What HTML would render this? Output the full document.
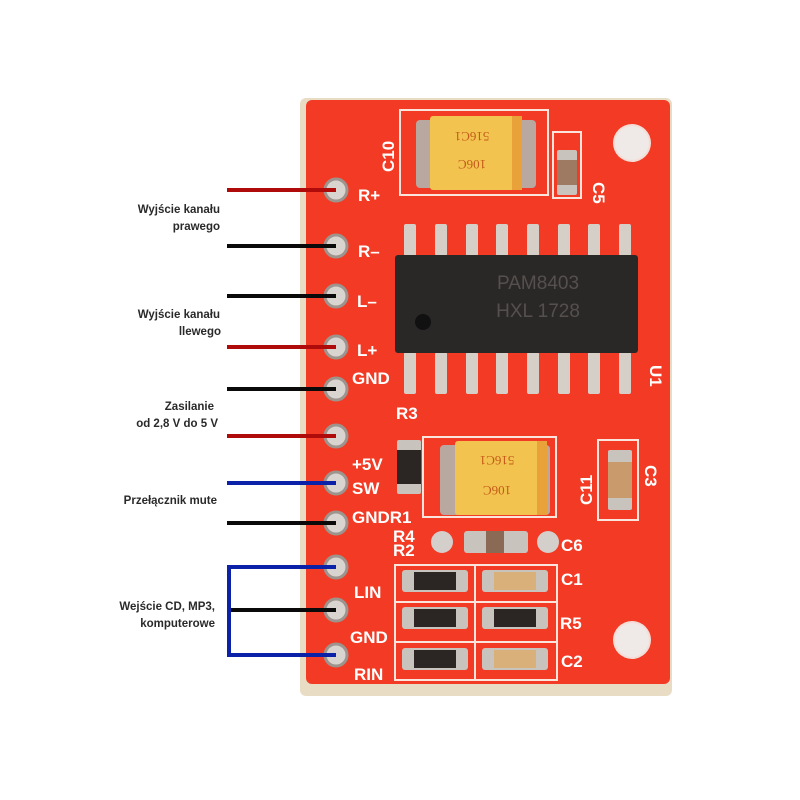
<!DOCTYPE html>
<html><head><meta charset="utf-8"><style>
html,body{margin:0;padding:0;background:#fff}
svg{display:block}
.l{font-family:"Liberation Sans",sans-serif;font-size:11.5px;font-weight:bold;fill:#2a2a2a}
.s{font-family:"Liberation Sans",sans-serif;font-size:17px;font-weight:bold;fill:#fff}
</style></head><body>
<svg width="800" height="800" viewBox="0 0 800 800" xmlns="http://www.w3.org/2000/svg">
<rect width="800" height="800" fill="#fff"/>
<!-- board -->
<rect x="300" y="98" width="372" height="598" rx="6" fill="#e9dcc4"/>
<rect x="306" y="100" width="364" height="584" rx="6" fill="#f23a24"/>
<!-- mounting holes -->
<circle cx="632" cy="143" r="19" fill="#f4ddd6"/><circle cx="632" cy="143" r="17" fill="#efe9e7"/>
<circle cx="632" cy="640" r="19" fill="#f4ddd6"/><circle cx="632" cy="640" r="17" fill="#efe9e7"/>
<!-- silkscreen boxes -->
<g fill="none" stroke="#fbe4dc" stroke-width="2">
<rect x="400" y="110" width="148" height="85"/>
<rect x="553" y="132" width="28" height="66"/>
<rect x="423" y="437" width="133" height="80"/>
<rect x="598" y="440" width="40" height="80"/>
<rect x="395" y="565" width="162" height="115"/>
<line x1="475" y1="565" x2="475" y2="680"/>
<line x1="395" y1="602" x2="557" y2="602"/>
<line x1="395" y1="642" x2="557" y2="642"/>
</g>
<!-- tantalum caps -->
<rect x="416" y="120" width="120" height="68" rx="4" fill="#b9a89f"/>
<rect x="430" y="116" width="92" height="74" rx="3" fill="#f2c34e"/>
<rect x="512" y="116" width="10" height="74" fill="#e9a23a"/>
<text x="472" y="140" font-family="Liberation Serif,serif" font-size="13" fill="#c45a1a" text-anchor="middle" transform="rotate(180 472 136)">516C1</text>
<text x="472" y="168" font-family="Liberation Serif,serif" font-size="13" fill="#c45a1a" text-anchor="middle" transform="rotate(180 472 164)">106C</text>
<rect x="440" y="445" width="110" height="70" rx="4" fill="#b9a89f"/>
<rect x="455" y="441" width="92" height="74" rx="3" fill="#f2c34e"/>
<rect x="537" y="441" width="10" height="74" fill="#e9a23a"/>
<text x="497" y="464" font-family="Liberation Serif,serif" font-size="13" fill="#c45a1a" text-anchor="middle" transform="rotate(180 497 460)">516C1</text>
<text x="497" y="494" font-family="Liberation Serif,serif" font-size="13" fill="#c45a1a" text-anchor="middle" transform="rotate(180 497 490)">106C</text>
<!-- small caps -->
<rect x="557" y="150" width="20" height="45" rx="2" fill="#c9c3be"/><rect x="557" y="160" width="20" height="25" fill="#9e7a62"/>
<rect x="608" y="450" width="24" height="60" rx="2" fill="#c9c3be"/><rect x="608" y="462" width="24" height="36" fill="#c99b6c"/>
<rect x="397" y="440" width="24" height="54" rx="2" fill="#c9c3be"/><rect x="397" y="450" width="24" height="34" fill="#2b2624"/>
<!-- C6 -->
<circle cx="442" cy="542" r="11" fill="#d5cfcc"/><circle cx="548" cy="542" r="11" fill="#d5cfcc"/>
<rect x="464" y="531" width="64" height="22" rx="3" fill="#c9c3be"/><rect x="486" y="531" width="18" height="22" fill="#8a6a55"/>
<!-- resistor grid -->
<g>
<rect x="402" y="570" width="66" height="22" rx="3" fill="#c9c3be"/><rect x="414" y="572" width="42" height="18" fill="#2b2624"/>
<rect x="482" y="570" width="66" height="22" rx="3" fill="#c9c3be"/><rect x="494" y="572" width="42" height="18" fill="#d9b07a"/>
<rect x="402" y="607" width="66" height="22" rx="3" fill="#c9c3be"/><rect x="414" y="609" width="42" height="18" fill="#2b2624"/>
<rect x="482" y="607" width="66" height="22" rx="3" fill="#c9c3be"/><rect x="494" y="609" width="42" height="18" fill="#2b2624"/>
<rect x="402" y="648" width="66" height="22" rx="3" fill="#c9c3be"/><rect x="414" y="650" width="42" height="18" fill="#2b2624"/>
<rect x="482" y="648" width="66" height="22" rx="3" fill="#c9c3be"/><rect x="494" y="650" width="42" height="18" fill="#d9b07a"/>
</g>
<!-- IC pins -->
<g fill="#d6cfc8">
<rect x="404" y="224" width="12" height="32" rx="2"/><rect x="435" y="224" width="12" height="32" rx="2"/><rect x="466" y="224" width="12" height="32" rx="2"/><rect x="496" y="224" width="12" height="32" rx="2"/><rect x="527" y="224" width="12" height="32" rx="2"/><rect x="558" y="224" width="12" height="32" rx="2"/><rect x="588" y="224" width="12" height="32" rx="2"/><rect x="619" y="224" width="12" height="32" rx="2"/>
<rect x="404" y="352" width="12" height="42" rx="2"/><rect x="435" y="352" width="12" height="42" rx="2"/><rect x="466" y="352" width="12" height="42" rx="2"/><rect x="496" y="352" width="12" height="42" rx="2"/><rect x="527" y="352" width="12" height="42" rx="2"/><rect x="558" y="352" width="12" height="42" rx="2"/><rect x="588" y="352" width="12" height="42" rx="2"/><rect x="619" y="352" width="12" height="42" rx="2"/>
</g>
<rect x="395" y="255" width="243" height="98" rx="3" fill="#2a2727"/>
<circle cx="423" cy="322" r="8" fill="#111"/>
<text x="538" y="289" font-family="Liberation Sans,sans-serif" font-size="19" fill="#55504d" text-anchor="middle">PAM8403</text>
<text x="538" y="317" font-family="Liberation Sans,sans-serif" font-size="19" fill="#55504d" text-anchor="middle">HXL   1728</text>
<!-- pins header -->
<g fill="#d9d4d0" stroke="#9d948e" stroke-width="3">
<circle cx="336" cy="190" r="11"/><circle cx="336" cy="246" r="11"/><circle cx="336" cy="296" r="11"/><circle cx="336" cy="347" r="11"/><circle cx="336" cy="389" r="11"/><circle cx="336" cy="436" r="11"/><circle cx="336" cy="483" r="11"/><circle cx="336" cy="523" r="11"/><circle cx="336" cy="567" r="11"/><circle cx="336" cy="610" r="11"/><circle cx="336" cy="655" r="11"/>
</g>
<!-- silk labels -->
<text class="s" x="358" y="201">R+</text>
<text class="s" x="358" y="257">R–</text>
<text class="s" x="357" y="307">L–</text>
<text class="s" x="357" y="356">L+</text>
<text class="s" x="352" y="384">GND</text>
<text class="s" x="396" y="419">R3</text>
<text class="s" x="352" y="470">+5V</text>
<text class="s" x="352" y="494">SW</text>
<text class="s" x="352" y="523">GNDR1</text>
<text class="s" x="393" y="542" font-size="14">R4</text>
<text class="s" x="393" y="556" font-size="14">R2</text>
<text class="s" x="354" y="598">LIN</text>
<text class="s" x="350" y="643">GND</text>
<text class="s" x="354" y="680">RIN</text>
<text class="s" x="0" y="0" transform="translate(394 172) rotate(-90)">C10</text>
<text class="s" x="0" y="0" transform="translate(593 182) rotate(90)">C5</text>
<text class="s" x="0" y="0" transform="translate(650 365) rotate(90)">U1</text>
<text class="s" x="0" y="0" transform="translate(592 505) rotate(-90)">C11</text>
<text class="s" x="0" y="0" transform="translate(645 465) rotate(90)">C3</text>
<text class="s" x="561" y="551">C6</text>
<text class="s" x="561" y="585">C1</text>
<text class="s" x="560" y="629">R5</text>
<text class="s" x="561" y="667">C2</text>
<!-- wires -->
<g stroke-width="4" fill="none">
<line x1="227" y1="190" x2="336" y2="190" stroke="#b00b0b"/>
<line x1="227" y1="246" x2="336" y2="246" stroke="#0a0a0a"/>
<line x1="227" y1="296" x2="336" y2="296" stroke="#0a0a0a"/>
<line x1="227" y1="347" x2="336" y2="347" stroke="#b00b0b"/>
<line x1="227" y1="389" x2="336" y2="389" stroke="#0a0a0a"/>
<line x1="227" y1="436" x2="336" y2="436" stroke="#b00b0b"/>
<line x1="227" y1="483" x2="336" y2="483" stroke="#0b22a8"/>
<line x1="227" y1="523" x2="336" y2="523" stroke="#0a0a0a"/>
<polyline points="336,567 229,567 229,655 336,655" stroke="#0b22a8"/>
<line x1="231" y1="610" x2="336" y2="610" stroke="#0a0a0a"/>
</g>
<!-- labels -->
<g class="l" text-anchor="end">
<text x="220" y="213">Wyjście kanału</text>
<text x="220" y="230">prawego</text>
<text x="220" y="318">Wyjście kanału</text>
<text x="221" y="335">llewego</text>
<text x="214" y="410">Zasilanie</text>
<text x="218" y="427">od 2,8 V do 5 V</text>
<text x="217" y="504">Przełącznik mute</text>
<text x="215" y="610">Wejście CD, MP3,</text>
<text x="215" y="627">komputerowe</text>
</g>
</svg>
</body></html>
